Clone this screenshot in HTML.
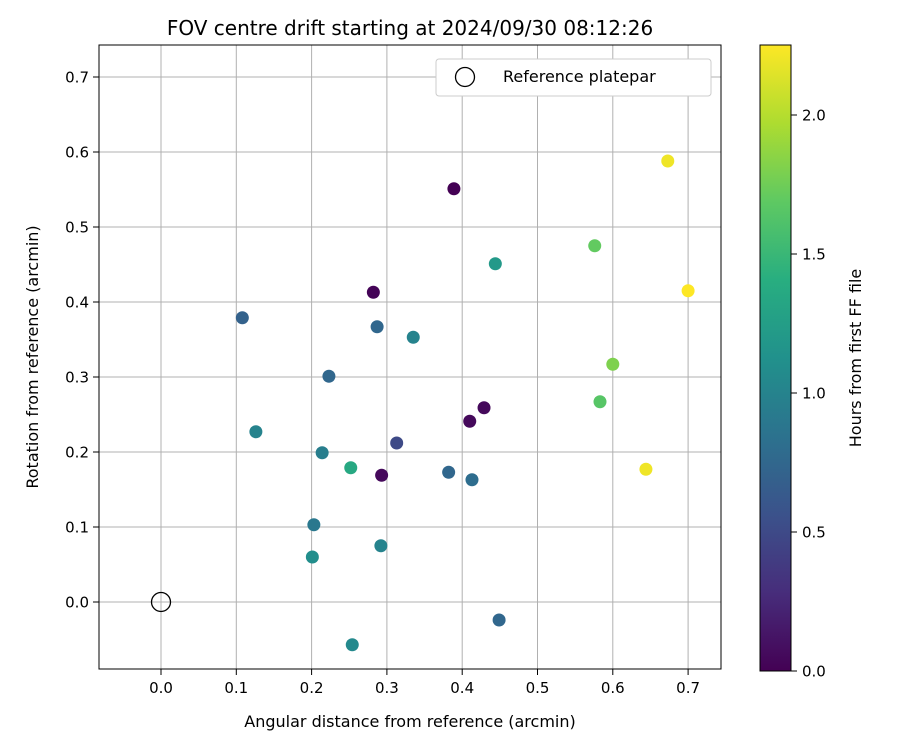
<!DOCTYPE html>
<html><head><meta charset="utf-8"><style>
body{margin:0;background:#fff;font-family:"DejaVu Sans","Liberation Sans",sans-serif}
svg text{font-family:"DejaVu Sans","Liberation Sans",sans-serif;fill:#000}
</style></head><body>
<svg id="chart" width="900" height="750" xmlns="http://www.w3.org/2000/svg">
<defs><linearGradient id="vir" x1="0" y1="1" x2="0" y2="0">
<stop offset="0" stop-color="#440154"/><stop offset="0.125" stop-color="#472d7b"/><stop offset="0.25" stop-color="#3b528b"/><stop offset="0.375" stop-color="#2c728e"/><stop offset="0.5" stop-color="#21918c"/><stop offset="0.625" stop-color="#28ae80"/><stop offset="0.75" stop-color="#5ec962"/><stop offset="0.875" stop-color="#addc30"/><stop offset="1" stop-color="#fde725"/></linearGradient></defs>
<text x="410" y="35" font-size="20" text-anchor="middle">FOV centre drift starting at 2024/09/30 08:12:26</text>
<g id="grid"></g>
<g id="ticks"></g>
<g id="points"></g>
<rect x="99" y="45" width="622" height="624" fill="none" stroke="#000" stroke-width="1"/>
<text x="410" y="727" font-size="16" text-anchor="middle">Angular distance from reference (arcmin)</text>
<text transform="translate(38,357) rotate(-90)" font-size="16" text-anchor="middle">Rotation from reference (arcmin)</text>
<g>
<rect x="436" y="59" width="275" height="37" rx="3" fill="#fff" stroke="#ccc"/>
<circle cx="465" cy="77" r="9.5" fill="none" stroke="#000" stroke-width="1.3"/>
<text x="503" y="82" font-size="16">Reference platepar</text>
</g>
<g>
<rect x="760" y="45" width="31" height="626" fill="url(#vir)" stroke="#000"/>
<g id="cbticks"></g>
<text transform="translate(861,358) rotate(-90)" font-size="16" text-anchor="middle">Hours from first FF file</text>
</g>
</svg>
<script>
const xs=[0.389,0.673,0.576,0.444,0.700,0.282,0.108,0.287,0.335,0.223,0.600,0.583,0.429,0.410,0.126,0.313,0.214,0.252,0.293,0.382,0.413,0.644,0.203,0.201,0.292,0.449,0.254];
const ys=[0.551,0.588,0.475,0.451,0.415,0.413,0.379,0.367,0.353,0.301,0.317,0.267,0.259,0.241,0.227,0.212,0.199,0.179,0.169,0.173,0.163,0.177,0.103,0.060,0.075,-0.024,-0.057];
const hours=[0.0,2.2,1.7,1.2,2.25,0.02,0.7,0.75,1.0,0.75,1.8,1.65,0.05,0.05,1.0,0.5,0.95,1.35,0.05,0.75,0.8,2.2,0.9,1.1,1.0,0.75,1.05];
const xTicks=[0,0.1,0.2,0.3,0.4,0.5,0.6,0.7];
const yTicks=[0,0.1,0.2,0.3,0.4,0.5,0.6,0.7];
const cTicks=[0,0.5,1.0,1.5,2.0];
const hMax=2.25;
const X=v=>161+v*753, Y=v=>602-v*750, C=v=>671-v*278;
const NS="http://www.w3.org/2000/svg";
function mk(t,a,p){const e=document.createElementNS(NS,t);for(const k in a)e.setAttribute(k,a[k]);p.appendChild(e);return e;}
const stops=[[68,1,84],[71,45,123],[59,82,139],[44,114,142],[33,145,140],[40,174,128],[94,201,98],[173,220,48],[253,231,37]];
function vir(t){t=Math.max(0,Math.min(1,t))*8;const i=Math.min(7,Math.floor(t)),f=t-i;const a=stops[i],b=stops[i+1];return `rgb(${a.map((v,k)=>Math.round(v+(b[k]-v)*f)).join(',')})`;}
const g=document.getElementById('grid'),tk=document.getElementById('ticks'),pt=document.getElementById('points'),cb=document.getElementById('cbticks');
xTicks.forEach(v=>{const x=X(v);
const l=mk('line',{x1:x,x2:x,y1:45,y2:669,stroke:'#b0b0b0','stroke-width':1},g);
mk('line',{x1:x,x2:x,y1:669,y2:675,stroke:'#000'},tk);
const t=mk('text',{x:x,y:693,'font-size':15,'text-anchor':'middle'},tk);t.textContent=v.toFixed(1);});
yTicks.forEach(v=>{const y=Y(v);
const l=mk('line',{x1:99,x2:721,y1:y,y2:y,stroke:'#b0b0b0','stroke-width':1},g);
mk('line',{x1:93,x2:99,y1:y,y2:y,stroke:'#000'},tk);
const t=mk('text',{x:89,y:y+5.5,'font-size':15,'text-anchor':'end'},tk);t.textContent=v.toFixed(1);});
cTicks.forEach(v=>{const y=C(v);
mk('line',{x1:791,x2:797,y1:y,y2:y,stroke:'#000'},cb);
const t=mk('text',{x:802,y:y+5.5,'font-size':15},cb);t.textContent=v.toFixed(1);});
xs.forEach((v,i)=>{const c=mk('circle',{cx:X(v),cy:Y(ys[i]),r:6.5,fill:vir(hours[i]/hMax)},pt);

});
const r=mk('circle',{cx:X(0),cy:Y(0),r:9.5,fill:'none',stroke:'#000','stroke-width':1.3},pt);


</script>
</body></html>
